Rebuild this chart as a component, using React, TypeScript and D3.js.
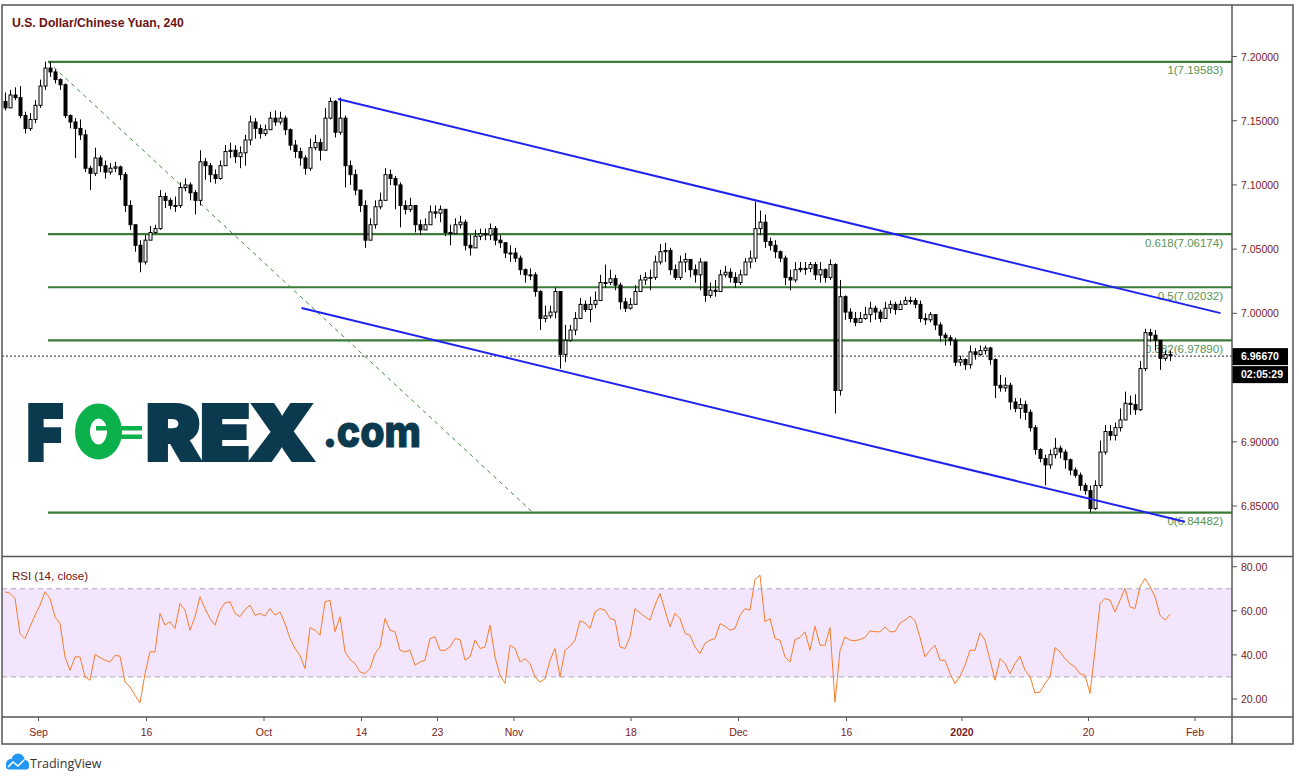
import React, { useEffect } from "react";
import * as d3 from "d3";

// ---- Data (USD/CNH 240-min) ----
const firstOpen = 7.165;
const closes = [
  7.160, 7.170, 7.168, 7.154, 7.144, 7.151, 7.162, 7.177, 7.191, 7.188,
  7.182, 7.178, 7.154, 7.149, 7.144, 7.139, 7.113, 7.109, 7.121, 7.115,
  7.110, 7.113, 7.114, 7.108, 7.084, 7.069, 7.053, 7.040, 7.057, 7.063,
  7.066, 7.091, 7.088, 7.084, 7.084, 7.098, 7.100, 7.094, 7.088, 7.118,
  7.115, 7.108, 7.105, 7.115, 7.126, 7.127, 7.122, 7.125, 7.135, 7.149,
  7.144, 7.140, 7.143, 7.152, 7.149, 7.152, 7.143, 7.131, 7.126, 7.121,
  7.113, 7.129, 7.133, 7.127, 7.152, 7.165, 7.141, 7.152, 7.115, 7.108,
  7.096, 7.084, 7.057, 7.069, 7.083, 7.088, 7.108, 7.105, 7.100, 7.084,
  7.081, 7.084, 7.069, 7.065, 7.069, 7.079, 7.078, 7.081, 7.063, 7.062,
  7.069, 7.071, 7.053, 7.051, 7.060, 7.062, 7.061, 7.066, 7.057, 7.055,
  7.047, 7.047, 7.043, 7.034, 7.030, 7.030, 7.017, 6.996, 6.998, 7.001,
  7.017, 6.968, 6.979, 6.987, 6.996, 7.007, 7.003, 7.007, 7.010, 7.024,
  7.024, 7.027, 7.022, 7.009, 7.004, 7.007, 7.017, 7.026, 7.028, 7.028,
  7.040, 7.048, 7.049, 7.034, 7.028, 7.040, 7.042, 7.034, 7.030, 7.040,
  7.014, 7.018, 7.017, 7.030, 7.032, 7.028, 7.024, 7.030, 7.040, 7.043,
  7.066, 7.071, 7.056, 7.053, 7.048, 7.043, 7.028, 7.026, 7.034, 7.035,
  7.035, 7.038, 7.030, 7.034, 7.028, 7.038, 6.940, 7.013, 7.001, 6.996,
  6.993, 6.996, 6.999, 7.004, 7.001, 6.996, 7.004, 7.007, 7.003, 7.007,
  7.010, 7.010, 7.007, 6.996, 6.995, 6.999, 6.991, 6.983, 6.981, 6.979,
  6.962, 6.964, 6.960, 6.970, 6.968, 6.971, 6.973, 6.964, 6.944, 6.942,
  6.944, 6.931, 6.926, 6.929, 6.923, 6.911, 6.894, 6.887, 6.882, 6.890,
  6.895, 6.892, 6.886, 6.878, 6.874, 6.866, 6.862, 6.848, 6.866, 6.892,
  6.908, 6.905, 6.911, 6.917, 6.930, 6.929, 6.925, 6.957, 6.985, 6.983,
  6.979, 6.965, 6.968, 6.967,
];
const highs = [
  7.172, 7.174, 7.176, 7.177, 7.157, 7.156, 7.166, 7.182, 7.196, 7.196,
  7.190, 7.183, 7.179, 7.155, 7.152, 7.151, 7.143, 7.115, 7.129, 7.123,
  7.119, 7.117, 7.118, 7.115, 7.110, 7.088, 7.069, 7.057, 7.061, 7.068,
  7.069, 7.096, 7.094, 7.090, 7.091, 7.102, 7.105, 7.102, 7.096, 7.127,
  7.121, 7.117, 7.112, 7.119, 7.131, 7.133, 7.131, 7.130, 7.139, 7.154,
  7.152, 7.147, 7.147, 7.157, 7.158, 7.157, 7.154, 7.144, 7.135, 7.129,
  7.123, 7.136, 7.139, 7.136, 7.160, 7.168, 7.166, 7.168, 7.154, 7.119,
  7.112, 7.096, 7.088, 7.074, 7.088, 7.094, 7.113, 7.112, 7.107, 7.102,
  7.088, 7.090, 7.084, 7.073, 7.074, 7.084, 7.084, 7.084, 7.079, 7.069,
  7.074, 7.076, 7.073, 7.061, 7.065, 7.066, 7.066, 7.070, 7.068, 7.061,
  7.055, 7.053, 7.051, 7.045, 7.035, 7.035, 7.032, 7.018, 7.006, 7.006,
  7.020, 7.017, 6.991, 6.991, 7.001, 7.012, 7.010, 7.013, 7.017, 7.030,
  7.038, 7.034, 7.030, 7.024, 7.012, 7.012, 7.022, 7.030, 7.032, 7.034,
  7.045, 7.054, 7.055, 7.051, 7.038, 7.045, 7.047, 7.040, 7.038, 7.043,
  7.040, 7.024, 7.026, 7.034, 7.037, 7.035, 7.032, 7.034, 7.043, 7.049,
  7.087, 7.080, 7.077, 7.059, 7.057, 7.049, 7.045, 7.034, 7.040, 7.040,
  7.040, 7.040, 7.040, 7.040, 7.035, 7.042, 7.039, 7.026, 7.014, 7.004,
  7.001, 7.001, 7.005, 7.009, 7.006, 7.003, 7.009, 7.010, 7.009, 7.010,
  7.013, 7.013, 7.012, 7.010, 7.000, 7.001, 6.999, 6.993, 6.985, 6.983,
  6.981, 6.967, 6.965, 6.975, 6.973, 6.975, 6.975, 6.974, 6.965, 6.952,
  6.950, 6.946, 6.934, 6.934, 6.932, 6.925, 6.913, 6.895, 6.890, 6.894,
  6.903, 6.897, 6.894, 6.887, 6.880, 6.876, 6.868, 6.866, 6.870, 6.901,
  6.913, 6.913, 6.915, 6.926, 6.939, 6.936, 6.937, 6.963, 6.988, 6.988,
  6.987, 6.979, 6.971, 6.971,
];
const lows = [
  7.158, 7.165, 7.166, 7.152, 7.140, 7.142, 7.148, 7.160, 7.174, 7.184,
  7.179, 7.174, 7.152, 7.144, 7.121, 7.135, 7.110, 7.096, 7.107, 7.110,
  7.105, 7.108, 7.110, 7.104, 7.079, 7.065, 7.048, 7.032, 7.038, 7.057,
  7.062, 7.065, 7.082, 7.081, 7.079, 7.082, 7.095, 7.088, 7.077, 7.084,
  7.104, 7.102, 7.101, 7.104, 7.121, 7.121, 7.117, 7.113, 7.115, 7.131,
  7.136, 7.136, 7.138, 7.147, 7.146, 7.147, 7.139, 7.127, 7.121, 7.115,
  7.108, 7.111, 7.127, 7.119, 7.127, 7.151, 7.137, 7.139, 7.098, 7.100,
  7.092, 7.079, 7.051, 7.063, 7.066, 7.081, 7.088, 7.100, 7.081, 7.067,
  7.077, 7.079, 7.063, 7.061, 7.065, 7.071, 7.074, 7.071, 7.060, 7.053,
  7.065, 7.066, 7.049, 7.045, 7.051, 7.057, 7.057, 7.057, 7.053, 7.051,
  7.043, 7.040, 7.040, 7.030, 7.024, 7.026, 7.013, 6.987, 6.993, 6.996,
  6.996, 6.957, 6.962, 6.978, 6.983, 6.996, 7.001, 6.993, 7.004, 7.010,
  7.020, 7.022, 7.018, 7.003, 7.001, 7.003, 7.010, 7.018, 7.022, 7.018,
  7.026, 7.038, 7.040, 7.030, 7.026, 7.026, 7.032, 7.028, 7.024, 7.018,
  7.009, 7.012, 7.013, 7.017, 7.028, 7.024, 7.020, 7.022, 7.030, 7.035,
  7.040, 7.061, 7.051, 7.049, 7.043, 7.040, 7.022, 7.018, 7.024, 7.032,
  7.030, 7.032, 7.026, 7.024, 7.024, 7.026, 6.922, 6.936, 6.995, 6.993,
  6.990, 6.994, 6.995, 6.993, 6.995, 6.993, 6.996, 7.000, 6.999, 7.003,
  7.007, 7.007, 7.004, 6.993, 6.991, 6.993, 6.987, 6.978, 6.975, 6.975,
  6.959, 6.959, 6.956, 6.957, 6.964, 6.967, 6.968, 6.960, 6.934, 6.939,
  6.939, 6.925, 6.923, 6.918, 6.917, 6.908, 6.890, 6.884, 6.866, 6.879,
  6.887, 6.887, 6.879, 6.874, 6.872, 6.862, 6.859, 6.845, 6.847, 6.864,
  6.890, 6.901, 6.901, 6.908, 6.917, 6.921, 6.921, 6.924, 6.955, 6.978,
  6.971, 6.956, 6.963, 6.963,
];
const rsi14 = [
  68.6, 67.9, 65.6, 49.7, 47.4, 52.7, 58.0, 62.6, 68.6, 65.6,
  57.3, 54.2, 39.1, 33.0, 39.1, 39.1, 30.0, 28.5, 40.3, 38.8,
  37.6, 36.8, 39.8, 39.4, 27.7, 25.5, 21.7, 18.2, 31.5, 41.4,
  41.4, 58.8, 53.5, 55.0, 52.0, 63.3, 60.3, 51.2, 57.3, 66.4,
  61.0, 56.5, 53.5, 60.3, 63.6, 64.1, 58.8, 57.3, 60.6, 62.6,
  58.0, 58.8, 57.6, 61.0, 58.0, 59.5, 54.2, 47.4, 42.9, 39.8,
  33.8, 52.4, 51.2, 48.9, 64.1, 64.8, 50.5, 57.3, 41.4, 37.9,
  36.1, 32.3, 31.5, 33.8, 40.6, 43.6, 56.5, 51.2, 50.5, 42.1,
  41.4, 42.1, 35.3, 36.8, 37.6, 47.4, 48.2, 42.1, 42.1, 43.6,
  47.4, 47.0, 37.6, 39.1, 46.7, 42.9, 43.6, 53.5, 39.1, 30.8,
  27.0, 44.4, 42.9, 36.8, 38.3, 36.1, 30.0, 27.7, 29.2, 37.6,
  42.9, 30.0, 42.1, 43.9, 46.7, 55.5, 54.5, 52.0, 59.5, 61.0,
  60.3, 56.5, 55.8, 43.6, 42.9, 48.2, 61.0, 59.1, 57.3, 55.8,
  62.6, 67.9, 60.3, 52.7, 58.8, 56.5, 49.7, 48.9, 43.6, 40.6,
  45.2, 46.7, 47.4, 54.2, 53.0, 51.2, 52.0, 58.0, 61.0, 60.3,
  74.2, 76.2, 55.0, 56.5, 47.4, 46.7, 39.1, 36.8, 47.0, 47.9,
  50.5, 42.1, 53.0, 44.4, 44.4, 52.4, 18.5, 42.1, 48.2, 46.7,
  46.4, 47.0, 47.9, 50.9, 50.5, 50.5, 52.7, 50.5, 50.5, 54.5,
  55.8, 57.6, 55.5, 47.9, 39.1, 42.1, 44.4, 37.6, 37.6, 31.5,
  27.0, 30.3, 35.3, 42.1, 42.1, 50.0, 46.7, 37.6, 28.5, 38.3,
  36.1, 31.5, 36.1, 39.4, 33.0, 30.3, 22.7, 23.2, 27.0, 30.0,
  43.3, 41.4, 38.3, 36.1, 34.5, 31.5, 30.8, 22.5, 42.1, 63.3,
  65.6, 64.8, 59.5, 64.8, 70.2, 61.8, 61.0, 70.9, 74.7, 70.9,
  66.4, 58.0, 55.8, 58.5,
];

const priceTicks = [7.2, 7.15, 7.1, 7.05, 7.0, 6.95, 6.9, 6.85];
const rsiTicks = [80, 60, 40, 20];
const rsiBands = [70, 30];
const timeLabels = ["Sep", "16", "Oct", "14", "23", "Nov", "18", "Dec", "16", "2020", "20", "Feb"];
const timeBars = [6.7, 28.3, 51.8, 71.3, 86.5, 101.8, 125.2, 146.7, 168.3, 191.4, 216.7, 238.0];

const fibRatios = ["1", "0.618", "0.5", "0.382", "0"];
const fibPrices = [7.19583, 7.06174, 7.02032, 6.9789, 6.84482];
const fibStartBar = 8.6;
const fibTrendBars = [8.6, 105.6];
const fibTrendPrices = [7.19583, 6.84482];
const upperChannelBars = [66.6, 243.1];
const upperChannelPrices = [7.1669, 7.0002];
const lowerChannelBars = [59.3, 236.0];
const lowerChannelPrices = [7.0041, 6.8377];
const lastPrice = 6.9667;
const countdown = "02:05:29";

// ---- Layout ----
const FL = 2, FT = 5, FR = 1293, FB = 744;
const AXIS_X = 1232;
const PANE_SEP = 556.5;
const TIME_TOP = 717;
const AX_FONT = "'Liberation Sans', Arial, sans-serif";
const LOGO_FONT = "Inter, 'DejaVu Sans', sans-serif";
const MAROON = "#7a1b1b";
const FIB_GREEN = "#3b7b37";
const NAVY = "#0b3a4f";
const LOGO_GREEN = "#0db14b";

export default function App() {
  useEffect(() => {
    document.body.style.margin = "0";
  }, []);

  const n = closes.length;
  const x = d3.scaleLinear().domain([0, n - 1]).range([5, 1170]);
  const y = d3.scaleLinear().domain([6.85, 7.2]).range([506, 56.5]);
  const yr = d3.scaleLinear().domain([20, 80]).range([699, 566.7]);

  const candles = closes.map((c, i) => ({
    i,
    o: i === 0 ? firstOpen : closes[i - 1],
    h: highs[i],
    l: lows[i],
    c,
  }));

  const rsiPath = d3
    .line<number>()
    .x((_, i) => x(i))
    .y((v) => yr(v))(rsi14) as string;

  const lastY = y(lastPrice);
  const boxTop = lastY - 8;
  const boxBottom = lastY + 27;
  const visiblePriceTicks = priceTicks.filter((t) => y(t) + 5 < boxTop || y(t) - 5 > boxBottom);

  return (
    <svg
      width={1299}
      height={781}
      style={{ position: "absolute", left: 0, top: 0, background: "#fff", display: "block" }}
    >
      <defs>
        <clipPath id="pricePane">
          <rect x={FL} y={FT} width={AXIS_X - FL} height={PANE_SEP - FT} />
        </clipPath>
        <clipPath id="rsiPane">
          <rect x={FL} y={PANE_SEP} width={AXIS_X - FL} height={TIME_TOP - PANE_SEP} />
        </clipPath>
      </defs>
      <rect x={0} y={0} width={1299} height={781} fill="#fff" />

      {/* Title */}
      <text x={12} y={27} fontFamily={AX_FONT} fontWeight={700} fontSize={12.2} fill="#6b1212">
        U.S. Dollar/Chinese Yuan, 240
      </text>

      {/* FOREX.com logo */}
      <g>
        <text x={27} y={460} fontFamily={LOGO_FONT} fontWeight={900} fontSize={76} fill={NAVY}
          stroke={NAVY} strokeWidth={4} strokeLinejoin="miter" textLength={36} lengthAdjust="spacingAndGlyphs">F</text>
        <ellipse cx={98.5} cy={431.5} rx={16} ry={20.5} fill="none" stroke={LOGO_GREEN} strokeWidth={15} />
        <rect x={96} y={426} width={46} height={4.5} fill={LOGO_GREEN} />
        <rect x={118} y={434.5} width={24} height={4.5} fill={LOGO_GREEN} />
        <text x={146} y={460} fontFamily={LOGO_FONT} fontWeight={900} fontSize={76} fill={NAVY}
          stroke={NAVY} strokeWidth={4} strokeLinejoin="miter" textLength={168} lengthAdjust="spacingAndGlyphs">REX</text>
        <text x={323} y={447} fontFamily={LOGO_FONT} fontWeight={800} fontSize={44} fill={NAVY}
          stroke={NAVY} strokeWidth={1.2} textLength={98} lengthAdjust="spacingAndGlyphs">.com</text>
      </g>

      {/* Price pane */}
      <g clipPath="url(#pricePane)">
        {fibPrices.map((p, k) => (
          <g key={"fib" + k}>
            <line x1={x(fibStartBar)} x2={AXIS_X} y1={y(p)} y2={y(p)} stroke={FIB_GREEN} strokeWidth={2.2} />
            <text x={1223} y={y(p) + 12.5} textAnchor="end" fontFamily={AX_FONT} fontSize={11.5} fill="#5a9354">
              {`${fibRatios[k]}(${p.toFixed(5)})`}
            </text>
          </g>
        ))}
        <line
          x1={x(fibTrendBars[0])} y1={y(fibTrendPrices[0])}
          x2={x(fibTrendBars[1])} y2={y(fibTrendPrices[1])}
          stroke="#3f8a3f" strokeWidth={1} strokeDasharray="4 4"
        />
        <line x1={FL} x2={AXIS_X} y1={lastY} y2={lastY} stroke="#222" strokeWidth={1} strokeDasharray="2 2" />
        {candles.map((d) => {
          const px = Math.round(x(d.i));
          const up = d.c >= d.o;
          const top = y(Math.max(d.o, d.c));
          const bot = y(Math.min(d.o, d.c));
          const hi = y(Math.max(d.h, d.o, d.c));
          const lo = y(Math.min(d.l, d.o, d.c));
          return (
            <g key={d.i}>
              <line x1={px + 0.5} x2={px + 0.5} y1={hi} y2={lo} stroke="#000" strokeWidth={1} />
              <rect
                x={px - 1}
                y={top}
                width={3}
                height={Math.max(bot - top, 1)}
                fill={up ? "#fff" : "#000"}
                stroke="#000"
                strokeWidth={1}
              />
            </g>
          );
        })}
        <line
          x1={x(upperChannelBars[0])} y1={y(upperChannelPrices[0])}
          x2={x(upperChannelBars[1])} y2={y(upperChannelPrices[1])}
          stroke="#1f23f2" strokeWidth={2}
        />
        <line
          x1={x(lowerChannelBars[0])} y1={y(lowerChannelPrices[0])}
          x2={x(lowerChannelBars[1])} y2={y(lowerChannelPrices[1])}
          stroke="#1f23f2" strokeWidth={2}
        />
      </g>

      {/* RSI pane */}
      <rect x={FL} y={yr(70)} width={AXIS_X - FL} height={yr(30) - yr(70)} fill="#f3e6fc" />
      {rsiBands.map((b) => (
        <line key={"band" + b} x1={FL} x2={AXIS_X} y1={yr(b)} y2={yr(b)} stroke="#b3a8b8" strokeWidth={1} strokeDasharray="5 4" />
      ))}
      <g clipPath="url(#rsiPane)">
        <path d={rsiPath} fill="none" stroke="#f57d2b" strokeWidth={1} />
      </g>
      <text x={12} y={580} fontFamily={AX_FONT} fontSize={11.5} fill="#6b1212">RSI (14, close)</text>

      {/* Price axis */}
      {visiblePriceTicks.map((t) => (
        <g key={"pt" + t}>
          <line x1={AXIS_X} x2={AXIS_X + 5} y1={y(t)} y2={y(t)} stroke="#555" />
          <text x={1241} y={y(t) + 4} fontFamily={AX_FONT} fontSize={10.5} fill={MAROON}>
            {t.toFixed(5)}
          </text>
        </g>
      ))}
      {rsiTicks.map((t) => (
        <g key={"rt" + t}>
          <line x1={AXIS_X} x2={AXIS_X + 5} y1={yr(t)} y2={yr(t)} stroke="#555" />
          <text x={1241} y={yr(t) + 4} fontFamily={AX_FONT} fontSize={10.5} fill={MAROON}>
            {t.toFixed(2)}
          </text>
        </g>
      ))}

      {/* Last price / countdown */}
      <rect x={AXIS_X} y={boxTop} width={56} height={17} fill="#000" />
      <text x={1241} y={lastY + 4} fontFamily={AX_FONT} fontWeight={700} fontSize={10.5} fill="#fff">
        {lastPrice.toFixed(5)}
      </text>
      <rect x={AXIS_X} y={lastY + 10} width={56} height={17} fill="#000" />
      <text x={1241} y={lastY + 22} fontFamily={AX_FONT} fontWeight={700} fontSize={10.5} fill="#fff">
        {countdown}
      </text>

      {/* Time axis */}
      {timeLabels.map((lab, k) => (
        <g key={"tt" + k}>
          <line x1={x(timeBars[k])} x2={x(timeBars[k])} y1={TIME_TOP} y2={TIME_TOP + 4} stroke="#555" />
          <text
            x={x(timeBars[k])}
            y={736}
            textAnchor="middle"
            fontFamily={AX_FONT}
            fontSize={10.5}
            fontWeight={lab === "2020" ? 700 : 400}
            fill={MAROON}
          >
            {lab}
          </text>
        </g>
      ))}

      {/* Frame */}
      <rect x={FL} y={FT} width={FR - FL} height={FB - FT} fill="none" stroke="#555" strokeWidth={1.5} />
      <line x1={AXIS_X} x2={AXIS_X} y1={FT} y2={FB} stroke="#555" strokeWidth={1.5} />
      <line x1={FL} x2={FR} y1={PANE_SEP} y2={PANE_SEP} stroke="#555" strokeWidth={1.5} />
      <line x1={FL} x2={FR} y1={TIME_TOP} y2={TIME_TOP} stroke="#555" strokeWidth={1.5} />

      {/* TradingView footer */}
      <g>
        <circle cx={11} cy={764} r={5} fill="#2196f3" />
        <circle cx={18} cy={760} r={6.5} fill="#2196f3" />
        <circle cx={24.5} cy={764.5} r={4.5} fill="#2196f3" />
        <rect x={6} y={763} width={23} height={6.5} rx={3} fill="#2196f3" />
        <polyline points="8,767 13,762 18,766 24,760" fill="none" stroke="#fff" strokeWidth={1.6} />
        <text x={30} y={768} fontFamily="'Open Sans', 'Liberation Sans', sans-serif" fontSize={12.5} fill="#333">
          TradingView
        </text>
      </g>
    </svg>
  );
}
